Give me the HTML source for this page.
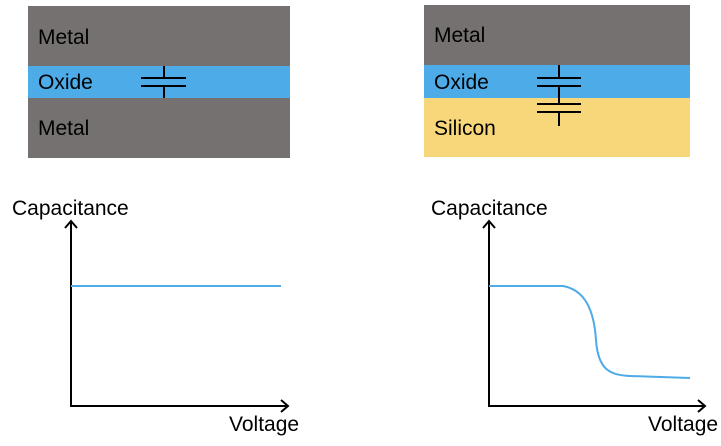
<!DOCTYPE html>
<html><head><meta charset="utf-8"><style>
body{margin:0;background:#fff;width:721px;height:441px;overflow:hidden}
</style></head><body>
<svg width="721" height="441" viewBox="0 0 721 441" xmlns="http://www.w3.org/2000/svg" font-family="Liberation Sans, sans-serif" font-size="21">
<rect x="28" y="6" width="262" height="60" fill="#767171"/>
<rect x="28" y="66" width="262" height="32" fill="#4dabe8"/>
<rect x="28" y="98" width="262" height="60" fill="#767171"/>
<text x="38" y="44">Metal</text>
<text x="38" y="89">Oxide</text>
<text x="38" y="135">Metal</text>
<g stroke="#000" stroke-width="2">
<line x1="164" y1="66" x2="164" y2="78"/><line x1="141" y1="78" x2="186" y2="78"/>
<line x1="141" y1="86" x2="186" y2="86"/><line x1="164" y1="86" x2="164" y2="98"/>
</g>
<rect x="424" y="5" width="266" height="60" fill="#767171"/>
<rect x="424" y="65" width="266" height="33" fill="#4dabe8"/>
<rect x="424" y="98" width="266" height="59" fill="#f8d77b"/>
<text x="434" y="42">Metal</text>
<text x="434" y="89">Oxide</text>
<text x="434" y="135">Silicon</text>
<g stroke="#000" stroke-width="2">
<line x1="559" y1="65" x2="559" y2="78"/><line x1="537" y1="78" x2="581" y2="78"/>
<line x1="537" y1="86" x2="581" y2="86"/><line x1="559" y1="86" x2="559" y2="104"/>
<line x1="537" y1="104" x2="581" y2="104"/><line x1="537" y1="112" x2="581" y2="112"/>
<line x1="559" y1="112" x2="559" y2="126"/>
</g>
<text x="12" y="215">Capacitance</text>
<text x="229" y="431">Voltage</text>
<text x="431" y="215">Capacitance</text>
<text x="648" y="431">Voltage</text>
<g stroke="#000" stroke-width="2" fill="none">
<polyline points="71,221 71,406 288,406"/>
<polyline points="65,228 71,221 77,228"/><polyline points="281,400 288,406 281,412"/>
<polyline points="489,221 489,406 705,406"/>
<polyline points="483,228 489,221 495,228"/><polyline points="698,400 705,406 698,412"/>
</g>
<g stroke="#4dabe8" stroke-width="2" fill="none">
<line x1="71" y1="286" x2="281" y2="286"/>
<path d="M489,286 L563,286 C585,290 594,310 596,340 C598,370 610,375 630,376 L690,378"/>
</g>
</svg>
</body></html>
